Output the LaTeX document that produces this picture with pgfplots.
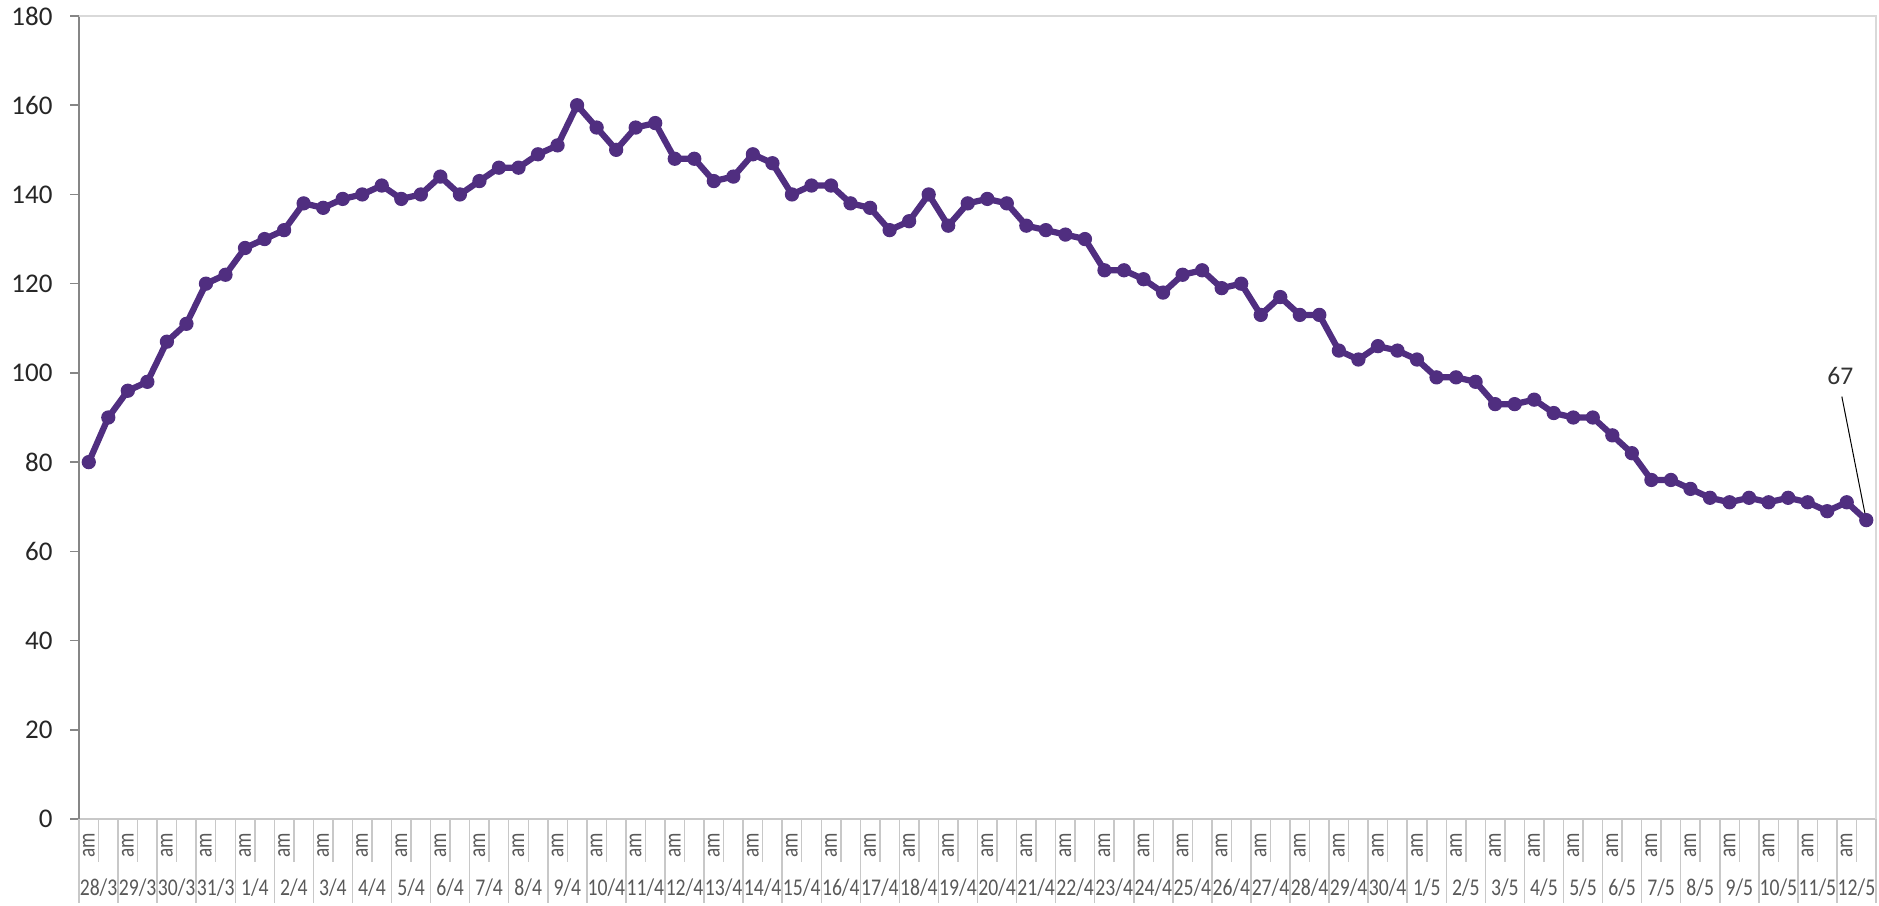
\documentclass[border=0pt]{standalone}
\usepackage{fontspec}
\setmainfont{Carlito}
\usepackage{graphicx}
\usepackage{pgfplots}
\pgfplotsset{compat=1.18}
\definecolor{lineP}{RGB}{80,46,128}
\definecolor{axgray}{RGB}{134,134,134}
\definecolor{lgray}{RGB}{217,217,217}
\definecolor{catgray}{RGB}{200,200,200}
\definecolor{labgray}{RGB}{89,89,89}
\newcommand\dd[1]{\scalebox{0.82}[1]{#1}}
\newcommand\am{\scalebox{0.8}[1]{am}}
\begin{document}
\begin{tikzpicture}
\begin{axis}[
  width=718.8pt, height=321.2pt, scale only axis,
  xmin=0, xmax=92, ymin=0, ymax=180, enlargelimits=false, clip=false,
  axis lines=left, axis line style={-},
  x axis line style={draw=catgray, line width=0.6pt},
  y axis line style={draw=axgray, line width=0.6pt},
  tick align=outside, major tick length=3.6pt,
  tick style={draw=axgray, line width=0.6pt},
  xtick style={draw=none},
  ytick={0,20,...,180},
  /pgf/number format/assume math mode=true,
  yticklabel style={font=\fontsize{10.8}{12}\selectfont, text=black!85, anchor=east, inner sep=0pt, xshift=-6.8pt},
  xtick={1,3,...,91},
  xticklabels={\dd{28/3},\dd{29/3},\dd{30/3},\dd{31/3},\dd{1/4},\dd{2/4},\dd{3/4},\dd{4/4},\dd{5/4},\dd{6/4},\dd{7/4},\dd{8/4},\dd{9/4},\dd{10/4},\dd{11/4},\dd{12/4},\dd{13/4},\dd{14/4},\dd{15/4},\dd{16/4},\dd{17/4},\dd{18/4},\dd{19/4},\dd{20/4},\dd{21/4},\dd{22/4},\dd{23/4},\dd{24/4},\dd{25/4},\dd{26/4},\dd{27/4},\dd{28/4},\dd{29/4},\dd{30/4},\dd{1/5},\dd{2/5},\dd{3/5},\dd{4/5},\dd{5/5},\dd{6/5},\dd{7/5},\dd{8/5},\dd{9/5},\dd{10/5},\dd{11/5},\dd{12/5}},
  xticklabel style={font=\fontsize{9.6}{10}\selectfont, text=labgray, anchor=center, inner sep=0pt, yshift=-24pt},
  extra x ticks={0.5,2.5,...,90.5},
  extra x tick labels={\am,\am,\am,\am,\am,\am,\am,\am,\am,\am,\am,\am,\am,\am,\am,\am,\am,\am,\am,\am,\am,\am,\am,\am,\am,\am,\am,\am,\am,\am,\am,\am,\am,\am,\am,\am,\am,\am,\am,\am,\am,\am,\am,\am,\am,\am},
  extra x tick style={tick style={draw=none}, xticklabel style={yshift=17pt, rotate=90}},
]
\draw[lgray, line width=0.8pt] (rel axis cs:0,1) -- (rel axis cs:1,1) -- (rel axis cs:1,0);
\pgfplotsinvokeforeach{0,2,...,92}{\draw[catgray, line width=0.6pt] (axis cs:#1,0) -- ++(0pt,-33.6pt);}
\pgfplotsinvokeforeach{1,3,...,91}{\draw[catgray, line width=0.6pt] (axis cs:#1,0) -- ++(0pt,-17.2pt);}
\addplot[color=lineP, line width=2.5pt, mark=*, mark size=2.6pt, mark options={fill=lineP, draw=lineP, line width=0.5pt}] coordinates {
(0.5,80)(1.5,90)(2.5,96)(3.5,98)(4.5,107)(5.5,111)(6.5,120)(7.5,122)(8.5,128)(9.5,130)
(10.5,132)(11.5,138)(12.5,137)(13.5,139)(14.5,140)(15.5,142)(16.5,139)(17.5,140)(18.5,144)(19.5,140)
(20.5,143)(21.5,146)(22.5,146)(23.5,149)(24.5,151)(25.5,160)(26.5,155)(27.5,150)(28.5,155)(29.5,156)
(30.5,148)(31.5,148)(32.5,143)(33.5,144)(34.5,149)(35.5,147)(36.5,140)(37.5,142)(38.5,142)(39.5,138)
(40.5,137)(41.5,132)(42.5,134)(43.5,140)(44.5,133)(45.5,138)(46.5,139)(47.5,138)(48.5,133)(49.5,132)
(50.5,131)(51.5,130)(52.5,123)(53.5,123)(54.5,121)(55.5,118)(56.5,122)(57.5,123)(58.5,119)(59.5,120)
(60.5,113)(61.5,117)(62.5,113)(63.5,113)(64.5,105)(65.5,103)(66.5,106)(67.5,105)(68.5,103)(69.5,99)
(70.5,99)(71.5,98)(72.5,93)(73.5,93)(74.5,94)(75.5,91)(76.5,90)(77.5,90)(78.5,86)(79.5,82)
(80.5,76)(81.5,76)(82.5,74)(83.5,72)(84.5,71)(85.5,72)(86.5,71)(87.5,72)(88.5,71)(89.5,69)
(90.5,71)(91.5,67)
};
\draw[black, line width=0.4pt] (axis cs:90.25,94.7) -- (axis cs:91.5,67);
\node[font=\fontsize{10.2}{11}\selectfont, text=black!80] at (axis cs:90.17,99.3) {67};
\path (rel axis cs:0,0) ++(-31.6pt,-34.4pt);
\path (rel axis cs:1,1) ++(1.2pt,6.4pt);
\end{axis}
\end{tikzpicture}
\end{document}
